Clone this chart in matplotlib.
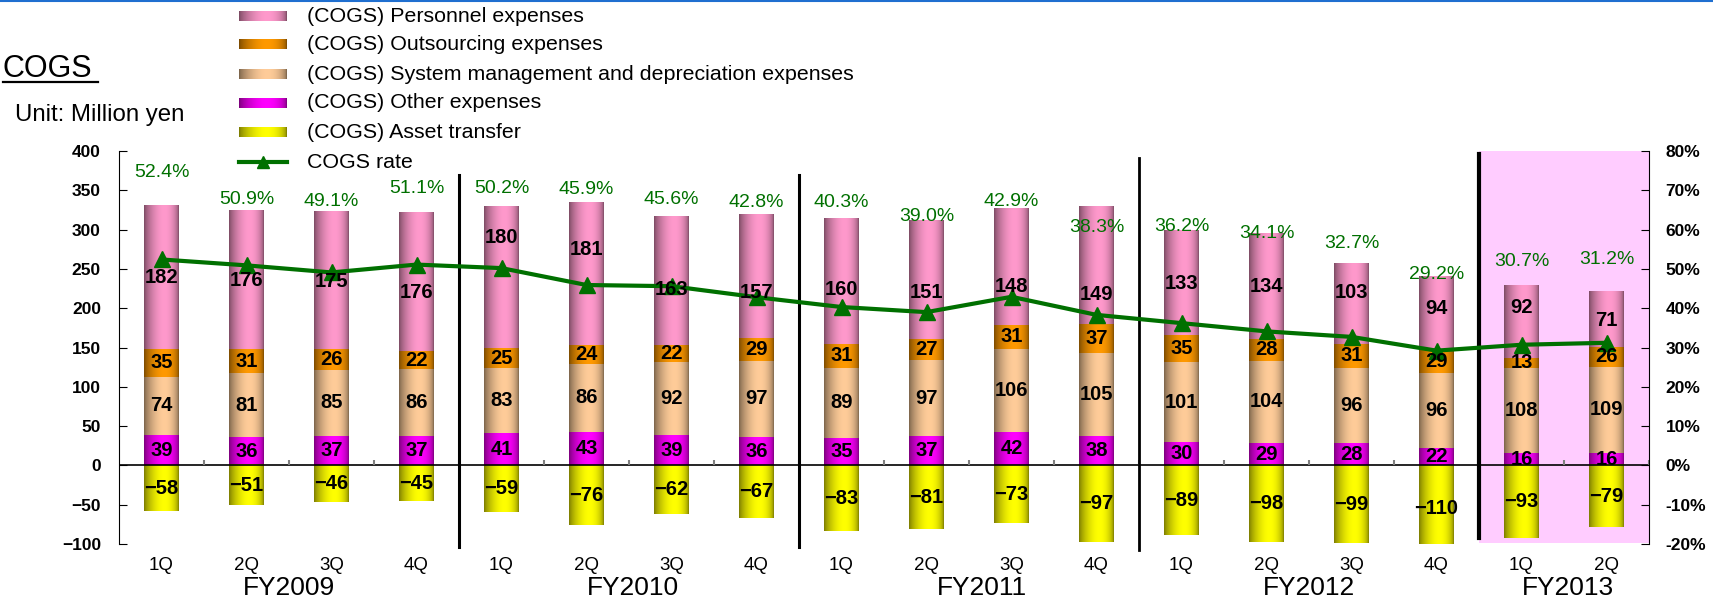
import numpy as np
import matplotlib.pyplot as plt
from matplotlib.colors import to_rgb
from matplotlib.patches import Rectangle

plt.rcParams['font.family'] = ['Liberation Sans', 'DejaVu Sans']

quarters = ['1Q', '2Q', '3Q', '4Q'] * 4 + ['1Q', '2Q']
fiscal_years = ['FY2009', 'FY2010', 'FY2011', 'FY2012', 'FY2013']

personnel = [182, 176, 175, 176, 180, 181, 163, 157, 160, 151, 148, 149, 133, 134, 103, 94, 92, 71]
outsourcing = [35, 31, 26, 22, 25, 24, 22, 29, 31, 27, 31, 37, 35, 28, 31, 29, 13, 26]
system_mgmt = [74, 81, 85, 86, 83, 86, 92, 97, 89, 97, 106, 105, 101, 104, 96, 96, 108, 109]
other = [39, 36, 37, 37, 41, 43, 39, 36, 35, 37, 42, 38, 30, 29, 28, 22, 16, 16]
asset_transfer = [-58, -51, -46, -45, -59, -76, -62, -67, -83, -81, -73, -97, -89, -98, -99, -110, -93, -79]
cogs_rate = [52.4, 50.9, 49.1, 51.1, 50.2, 45.9, 45.6, 42.8, 40.3, 39.0, 42.9, 38.3, 36.2, 34.1, 32.7, 29.2, 30.7, 31.2]

# label heights (left axis units) for the rate figures and the personnel figures
rate_label_y = [373, 338, 336, 352, 352, 351, 338, 334, 334, 317, 336, 303, 304, 295, 282, 243, 259, 262]
personnel_label_y = [239, 235, 234, 220, 290, 275, 224, 220, 224, 220, 228, 218, 231, 227, 220, 200, 201, 184]
fy_label_x = [1.5, 5.55, 9.65, 13.5, 16.55]

GREEN = '#007000'

# name, centre colour, edge colour
styles = {
    'personnel': ('(COGS) Personnel expenses', '#FF99CC', '#7A4A62'),
    'outsourcing': ('(COGS) Outsourcing expenses', '#FF9900', '#7A4A00'),
    'system': ('(COGS) System management and depreciation expenses', '#FFCC99', '#7A634A'),
    'other': ('(COGS) Other expenses', '#FF00FF', '#7A007A'),
    'asset': ('(COGS) Asset transfer', '#FFFF00', '#7A7A00'),
}


def shade(center, edge, n=80):
    t = np.linspace(0, 1, n)
    mix = np.sin(np.pi * t ** 1.3) ** 0.55
    e = np.array(to_rgb(edge))
    c = np.array(to_rgb(center))
    return (e[None, :] + (c - e)[None, :] * mix[:, None])[None, :, :]


def paint(axis, container, center, edge):
    img = shade(center, edge)
    for p in container.patches:
        x0, y0, w, h = p.get_x(), p.get_y(), p.get_width(), p.get_height()
        axis.imshow(img, extent=[x0, x0 + w, min(y0, y0 + h), max(y0, y0 + h)],
                    aspect='auto', interpolation='bilinear', zorder=2)
        p.set_visible(False)


W, H = 1713, 606
fig = plt.figure(figsize=(W / 100, H / 100), dpi=100)
ax = fig.add_axes([119 / W, 1 - 544 / H, (1649 - 119) / W, (544 - 151) / H])

x = np.arange(len(quarters))
other_a = np.array(other)
sys_a = np.array(system_mgmt)
out_a = np.array(outsourcing)

# highlighted latest fiscal year
ax.add_patch(Rectangle((15.5, -99), 2.0, 500, facecolor='#FFCCFF', edgecolor='none', zorder=0))

bw = 0.41
b_other = ax.bar(x, other, bw)
b_sys = ax.bar(x, system_mgmt, bw, bottom=other_a)
b_out = ax.bar(x, outsourcing, bw, bottom=other_a + sys_a)
b_pers = ax.bar(x, personnel, bw, bottom=other_a + sys_a + out_a)
b_asset = ax.bar(x, asset_transfer, bw)

for cont, key in [(b_other, 'other'), (b_sys, 'system'), (b_out, 'outsourcing'),
                  (b_pers, 'personnel'), (b_asset, 'asset')]:
    paint(ax, cont, styles[key][1], styles[key][2])

# zero line with small category ticks
ax.axhline(0, color='black', lw=1.2, zorder=3)
ax.vlines(np.arange(0.5, len(quarters), 1.0), 0, 6.5, color='#808080', lw=1.5, zorder=3)

# fiscal year separators
for xs, top, bot, lw in [(3.5, 369, -104, 2.2), (7.5, 369, -104, 2.2), (11.5, 391, -108, 2.0), (15.5, 396, -93, 3.0)]:
    ax.plot([xs, xs], [bot, top], color='black', lw=lw, clip_on=False, zorder=4)

ax.set_xlim(-0.5, len(quarters) - 0.5)
ax.set_ylim(-100, 400)
ax.set_yticks(range(-100, 401, 50))
ax.set_xticks(x, quarters)
ax.tick_params(axis='x', length=0, pad=9, labelsize=13.5)
ax.tick_params(axis='y', direction='in', length=6, pad=13, labelsize=12.5)
for lbl in ax.get_yticklabels():
    lbl.set_fontweight('bold')
for s in ['top', 'bottom', 'right']:
    ax.spines[s].set_visible(False)

for xf, fy in zip(fy_label_x, fiscal_years):
    ax.annotate(fy, xy=(xf, 0), xycoords=('data', 'axes fraction'), xytext=(0, -32),
                textcoords='offset points', ha='center', va='center', fontsize=19)

ax2 = ax.twinx()
ax2.plot(x, cogs_rate, color=GREEN, lw=3, marker='^', ms=12, zorder=3)
ax2.set_ylim(-20, 80)
ax2.set_yticks(range(-20, 81, 10))
ax2.yaxis.set_major_formatter(lambda v, _: f'{v:.0f}%')
ax2.tick_params(axis='y', direction='in', length=6, pad=12, labelsize=12.5)
for lbl in ax2.get_yticklabels():
    lbl.set_fontweight('bold')
for s in ['top', 'bottom', 'left']:
    ax2.spines[s].set_visible(False)

# value labels go on the twin axes so they sit above the rate line
lab_kw = dict(fontsize=14.5, fontweight='bold', color='black', ha='center', va='center',
              transform=ax.transData, zorder=6)
for cont, vals in [(b_other, other), (b_sys, system_mgmt), (b_out, outsourcing), (b_asset, asset_transfer)]:
    for p, v in zip(cont.patches, vals):
        ax2.text(p.get_x() + p.get_width() / 2, p.get_y() + p.get_height() / 2,
                 str(v).replace('-', '\u2212'), **lab_kw)
for i, v in enumerate(personnel):
    ax2.text(i, personnel_label_y[i], str(v), **lab_kw)

for i, r in enumerate(cogs_rate):
    ax2.text(i, rate_label_y[i], f'{r:.1f}%', ha='center', va='center', color=GREEN,
             fontsize=14, transform=ax.transData, zorder=6)

# title, unit note and legend drawn in pixel space
ov = fig.add_axes([0, 0, 1, 1], zorder=10)
ov.set_axis_off()
ov.patch.set_visible(False)

ov.plot([0, W], [1, 1], color='#1F6FD0', lw=1.5)
ov.text(3, 77, 'COGS', fontsize=22, va='baseline', ha='left')
ov.plot([3, 98], [82, 82], color='black', lw=1.6)
ov.text(15, 115, 'Unit: Million yen', fontsize=17.3, va='center', ha='left')

legend_rows = [16, 44.5, 74, 103, 132, 162]
for key, yy in zip(['personnel', 'outsourcing', 'system', 'other', 'asset'], legend_rows):
    name, c, e = styles[key]
    ov.imshow(shade(c, e), extent=[239, 287, yy + 5, yy - 5], aspect='auto', interpolation='bilinear')
    ov.text(307, yy, name, fontsize=15.4, va='center', ha='left')
ov.plot([239, 287], [legend_rows[5], legend_rows[5]], color=GREEN, lw=3)
ov.plot([263], [legend_rows[5]], marker='^', color=GREEN, ms=9)
ov.text(307, legend_rows[5], 'COGS rate', fontsize=15.4, va='center', ha='left')
ov.set_xlim(0, W)
ov.set_ylim(H, 0)

fig.savefig('out.png', dpi=100)
